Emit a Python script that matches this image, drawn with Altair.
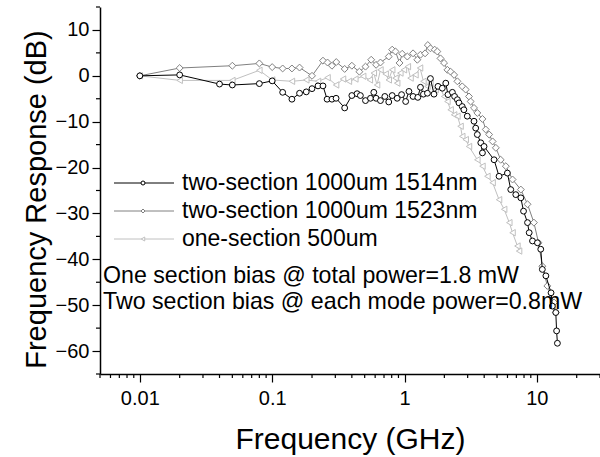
import altair as alt
import pandas as pd

# two-section 1000um 1514nm (black circles)
f1 = [0.01, 0.02, 0.04, 0.05, 0.08, 0.1, 0.12, 0.141, 0.161, 0.181, 0.2, 0.222, 0.242, 0.26, 0.283,
      0.304, 0.353, 0.40, 0.438, 0.464, 0.507, 0.553, 0.586, 0.61, 0.658, 0.71, 0.76, 0.807, 0.88,
      0.95, 1.02, 1.08, 1.16, 1.26, 1.32, 1.39, 1.49, 1.57, 1.67, 1.79, 1.93, 2.05, 2.13, 2.30, 2.39,
      2.51, 2.58, 2.73, 2.81, 2.98, 3.35, 3.45, 3.55, 3.77, 3.88, 3.99, 4.75, 5.18, 5.99, 6.35, 6.93,
      7.57, 7.93, 8.50, 8.75, 9.27, 10.1, 10.7, 11.0, 11.7, 12.8, 13.1, 13.9, 14.1, 14.3]
r1 = [0, 0.2, -1.8, -2.0, -1.7, -1.1, -3.6, -5.1, -3.8, -3.5, -2.8, -2.2, -2.2, -5.1, -5.1,
      -4.9, -7.0, -4.3, -3.9, -4.3, -5.4, -4.9, -3.6, -4.9, -5.4, -4.5, -5.7, -4.3, -4.9,
      -4.1, -5.6, -3.4, -4.5, -4.7, -2.5, -4.0, -3.8, -0.6, -4.0, -2.3, -2.7, -1.6, -4.1, -3.6, -4.5,
      -5.2, -5.9, -6.7, -7.4, -8.8, -9.9, -11.4, -12.8, -14.6, -16.8, -15.4, -18.3, -21.9, -21.2, -24.8, -25.9,
      -26.6, -29.5, -32.0, -34.2, -36.0, -36.4, -37.8, -42.2, -43.6, -47.3, -50.2, -51.6, -55.6, -58.3]

# two-section 1000um 1523nm (gray diamonds)
f2 = [0.01, 0.02, 0.05, 0.08, 0.1, 0.12, 0.141, 0.161, 0.2, 0.242, 0.262, 0.283, 0.305, 0.353, 0.40,
      0.456, 0.507, 0.56, 0.61, 0.658, 0.76, 0.807, 0.855, 0.917, 0.96, 1.05, 1.16, 1.25, 1.32, 1.43,
      1.50, 1.57, 1.69, 1.77, 1.87, 1.99, 2.11, 2.23, 2.37, 2.51, 2.73, 2.90, 3.07, 3.16, 3.35, 3.55,
      3.88, 4.11, 4.36, 4.63, 4.90, 5.33, 5.83, 6.55, 7.57, 8.5, 9.5, 10.3, 11.0, 12.0, 13.5, 13.9]
r2 = [0, 1.7, 2.2, 2.7, 1.9, 1.6, 1.6, 1.8, 0, 3.3, 2.9, 2.2, 3.0, 1.5, 2.2,
      0.9, 2.0, 3.5, 2.4, 2.9, 4.2, 5.7, 5.3, 2.8, 4.8, 4.2, 4.9, 3.5, 4.6, 4.9,
      6.7, 6.0, 5.7, 5.3, 3.8, 2.8, 1.3, 0.9, 0.2, -1.2, -2.3, -3.0, -4.5, -5.6, -7.0, -8.1,
      -9.4, -11.7, -12.8, -14.3, -15.7, -18.3, -19.7, -22.6, -24.8, -28.0, -32.0, -36.4, -41.5, -45.8, -49.4, -51.6]

# one-section 500um (light gray left triangles)
f3 = [0.01, 0.02, 0.05, 0.08, 0.1, 0.141, 0.181, 0.222, 0.262, 0.304, 0.343, 0.38, 0.425, 0.487, 0.547,
      0.586, 0.62, 0.658, 0.72, 0.76, 0.807, 0.855, 0.88, 0.93, 0.99, 1.06, 1.11, 1.21, 1.31, 1.39,
      1.49, 1.57, 1.72, 1.87, 1.99, 2.11, 2.23, 2.37, 2.51, 2.65, 2.73, 2.90, 3.07, 3.55, 3.88, 4.23,
      4.63, 5.18, 5.66, 6.19, 6.55, 7.13, 7.34]
r3 = [0, -1.0, -1.0, 1.2, -0.9, -1.2, -0.9, -1.2, -0.4, -2.0, -0.7, -1.2, -0.7, -0.1, -0.9,
      0.6, -2.0, 1.3, 0.4, -0.9, 1.3, -0.5, -1.6, 0.6, 1.3, 2.0, -0.5, 0.2, 1.7, -1.2,
      -2.3, -1.6, -3.0, -2.7, -4.5, -5.6, -7.4, -8.5, -8.8, -11.0, -13.2, -13.9, -15.4, -18.3, -19.7, -21.9,
      -23.3, -27.0, -29.1, -32.0, -34.2, -37.1, -38.2]

series_names = ["two-section 1000um 1514nm", "two-section 1000um 1523nm", "one-section 500um"]
series_colors = ["#000000", "#808080", "#c0c0c0"]
series_shapes = ["circle", "diamond", "triangle-left"]
series_sizes = [34, 48, 40]

annotations = ["One section bias @ total power=1.8 mW",
               "Two section bias @ each mode power=0.8mW"]

x_major = [0.01, 0.1, 1, 10]
x_minor = [0.005, 0.006, 0.007, 0.008, 0.009, 0.02, 0.03, 0.04, 0.05, 0.06, 0.07, 0.08, 0.09,
           0.2, 0.3, 0.4, 0.5, 0.6, 0.7, 0.8, 0.9, 2, 3, 4, 5, 6, 7, 8, 9, 20, 30]
y_major = [-60, -50, -40, -30, -20, -10, 0, 10]
y_minor = [-65, -55, -45, -35, -25, -15, -5, 5, 15]

W, H = 500, 367
FONT = "Liberation Sans"

frames = []
for name, f, r in zip(series_names, [f1, f2, f3], [r1, r2, r3]):
    frames.append(pd.DataFrame({"freq": f, "resp": r, "series": name}))
df = pd.concat(frames, ignore_index=True)

xscale = alt.Scale(type="log", domain=[0.005, 30], nice=False)
yscale = alt.Scale(domain=[-65, 15], nice=False, zero=False)

xaxis = alt.Axis(
    values=x_major, format="~g", tickSize=8,
    title="Frequency (GHz)", titleFont=FONT, titleFontSize=30, titleFontWeight="normal",
    titleY=74, titleBaseline="alphabetic", titleColor="black",
    labelFont=FONT, labelFontSize=20, labelColor="black", labelPadding=6, labelFlush=False,
    labelOverlap=False,
    domainColor="black", domainWidth=1.5, tickColor="black", tickWidth=1.2, grid=False,
)
yaxis = alt.Axis(
    values=y_major, format="d", tickSize=8,
    title="Frequency Response (dB)", titleFont=FONT, titleFontSize=29, titleFontWeight="normal",
    titleX=-55, titleY=192, titleAngle=-90, titleBaseline="alphabetic", titleAlign="center",
    titleColor="black",
    labelFont=FONT, labelFontSize=20, labelColor="black", labelPadding=3, labelFlush=False,
    labelOverlap=False,
    domainColor="black", domainWidth=1.5, tickColor="black", tickWidth=1.2, grid=False,
)

layers = []
for name in reversed(series_names):
    idx = series_names.index(name)
    sub = df[df.series == name]
    base = alt.Chart(sub)
    line = base.mark_line(strokeWidth=1, color=series_colors[idx]).encode(
        x=alt.X("freq:Q", scale=xscale, axis=xaxis),
        y=alt.Y("resp:Q", scale=yscale, axis=yaxis),
    )
    pts = base.mark_point(filled=True, fill="white", strokeWidth=1, size=series_sizes[idx],
                          stroke=series_colors[idx], shape=series_shapes[idx], opacity=1).encode(
        x=alt.X("freq:Q", scale=xscale, axis=xaxis),
        y=alt.Y("resp:Q", scale=yscale, axis=yaxis),
    )
    layers += [line, pts]

# minor ticks
xminor = alt.Chart(pd.DataFrame({"v": x_minor})).mark_rule(color="black", strokeWidth=1.2).encode(
    x=alt.X("v:Q", scale=xscale, axis=xaxis), y=alt.value(H), y2=alt.value(H + 4))
yminor = alt.Chart(pd.DataFrame({"v": y_minor})).mark_rule(color="black", strokeWidth=1.2).encode(
    y=alt.Y("v:Q", scale=yscale, axis=yaxis), x=alt.value(-4), x2=alt.value(0))
layers += [xminor, yminor]

# manual legend
one = pd.DataFrame({"k": [0]})
for i, name in enumerate(series_names):
    ypx = 176 + 28 * i
    layers.append(alt.Chart(one).mark_rule(strokeWidth=1, color=series_colors[i]).encode(
        x=alt.value(14), x2=alt.value(74), y=alt.value(ypx)))
    layers.append(alt.Chart(one).mark_point(filled=True, fill="white", strokeWidth=1, size=16,
                                            opacity=1, stroke=series_colors[i],
                                            shape=series_shapes[i]).encode(
        x=alt.value(43), y=alt.value(ypx)))
    layers.append(alt.Chart(one).mark_text(align="left", baseline="middle", font=FONT,
                                           fontSize=23, color="black", text=name).encode(
        x=alt.value(82), y=alt.value(ypx)))

for i, txt in enumerate(annotations):
    layers.append(alt.Chart(one).mark_text(align="left", baseline="alphabetic", font=FONT,
                                           fontSize=23.2, color="black", text=txt).encode(
        x=alt.value(3), y=alt.value(276 + 26 * i)))

chart = alt.layer(*layers).properties(
    width=W, height=H, autosize=alt.AutoSizeParams(type="none"),
    padding={"left": 100, "top": 7, "right": 0, "bottom": 83},
    background="white",
).configure_view(stroke=None)

chart.save("out.html", embed_options={"renderer": "svg", "actions": False})
